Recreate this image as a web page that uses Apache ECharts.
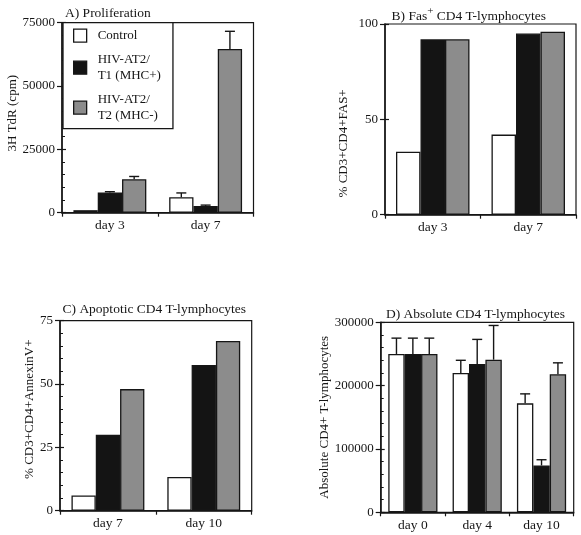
<!DOCTYPE html>
<html><head><meta charset="utf-8">
<script src="https://cdn.jsdelivr.net/npm/echarts@6.0.0/dist/echarts.min.js"></script>
<style>html,body{margin:0;padding:0;background:#fff}#c{width:581px;height:535px}</style>
</head><body><div id="c"></div>
<script>
// ---- data ----
const seriesNames = ['Control', 'HIV-AT2/\nT1 (MHC+)', 'HIV-AT2/\nT2 (MHC-)'];

const catA = ['day 3', 'day 7'];
const aControl = [1000, 6100];
const aT1 = [8000, 2600];
const aT2 = [13200, 64600];
const aControlErr = [null, 7800];
const aT1Err = [8300, 3000];
const aT2Err = [14300, 71600];
const ticksA = [0, 25000, 50000, 75000];

const catB = ['day 3', 'day 7'];
const bControl = [33, 42];
const bT1 = [92, 95];
const bT2 = [92, 96];
const ticksB = [0, 50, 100];

const catC = ['day 7', 'day 10'];
const cControl = [6, 13.3];
const cT1 = [30, 57.5];
const cT2 = [48, 67];
const ticksC = [0, 25, 50, 75];

const catD = ['day 0', 'day 4', 'day 10'];
const dControl = [250000, 220000, 172000];
const dT1 = [250000, 234000, 74000];
const dT2 = [250000, 241000, 218000];
const dControlErr = [275000, 240000, 187000];
const dT1Err = [275000, 273000, 83000];
const dT2Err = [275000, 295000, 236000];
const ticksD = [0, 100000, 200000, 300000];

// ---- styling ----
const FONT = '"Liberation Serif", "Times New Roman", serif';
const INK = '#161616';
const fills = ['#ffffff', '#141414', '#8c8c8c'];

const panels = [
  { grid: {left: 62, top: 22.7, width: 191.5, height: 190}, cats: catA, vals: [aControl, aT1, aT2],
    errs: [aControlErr, aT1Err, aT2Err], ticks: ticksA, minor: true, bw: 24.3,
    name: '3H TdR (cpm)', nameGap: 41, namePad: [0, 0, 0, 9] },
  { grid: {left: 385, top: 24, width: 191, height: 190.7}, cats: catB, vals: [bControl, bT1, bT2],
    errs: null, ticks: ticksB, minor: false, bw: 24.5,
    name: '% CD3+CD4+FAS+', nameGap: 35, namePad: [0, 48, 0, 0] },
  { grid: {left: 60, top: 320.7, width: 191.7, height: 190}, cats: catC, vals: [cControl, cT1, cT2],
    errs: null, ticks: ticksC, minor: true, bw: 24.3,
    name: '% CD3+CD4+AnnexinV+', nameGap: 23, namePad: [0, 0, 0, 13] },
  { grid: {left: 380.7, top: 322.3, width: 193, height: 190}, cats: catD, vals: [dControl, dT1, dT2],
    errs: [dControlErr, dT1Err, dT2Err], ticks: ticksD, minor: true, bw: 16.4,
    name: 'Absolute CD4+ T-lymphocytes', nameGap: 49, namePad: [0, 0, 0, 0] }
];

const grids = [], xAxes = [], yAxes = [], series = [];
panels.forEach((p, pi) => {
  const tmax = p.ticks[p.ticks.length - 1];
  const interval = p.ticks[1] - p.ticks[0];
  grids.push(Object.assign({show: true, borderColor: INK, borderWidth: 1.2, backgroundColor: 'transparent', containLabel: false}, p.grid));
  xAxes.push({
    type: 'category', gridIndex: pi, data: p.cats, boundaryGap: true,
    axisLine: {lineStyle: {color: INK, width: 1.5}},
    axisTick: {show: true, length: 4, lineStyle: {color: INK, width: 1.2}},
    axisLabel: {color: INK, fontFamily: FONT, fontSize: 13.5, margin: 6}
  });
  yAxes.push({
    type: 'value', gridIndex: pi, min: 0, max: tmax, interval: interval, position: 'left',
    axisLine: {show: true, lineStyle: {color: INK, width: 1.5}},
    axisTick: {show: true, inside: true, length: 4, lineStyle: {color: INK, width: 1.2}},
    minorTick: {show: p.minor, splitNumber: 5, length: 3, lineStyle: {color: INK, width: 1}},
    splitLine: {show: false},
    axisLabel: {color: INK, fontFamily: FONT, fontSize: 13, margin: 7, formatter: v => String(v)},
    name: p.name, nameLocation: 'middle', nameGap: p.nameGap,
    nameTextStyle: {color: INK, fontFamily: FONT, fontSize: 13, padding: p.namePad}
  });
  yAxes.push({
    type: 'value', gridIndex: pi, min: 0, max: tmax, interval: interval, position: 'left', offset: 0,
    axisLine: {show: false}, axisLabel: {show: false}, splitLine: {show: false},
    axisTick: {show: true, inside: false, length: 5, lineStyle: {color: INK, width: 1.2}}
  });
  p.vals.forEach((v, k) => {
    series.push({
      type: 'bar', name: seriesNames[k], xAxisIndex: pi, yAxisIndex: 2 * pi,
      data: v, barWidth: p.bw, barGap: '0%', z: 2,
      itemStyle: {color: fills[k], borderColor: INK, borderWidth: 1.3},
      emphasis: {disabled: true}
    });
  });
  if (p.errs) {
    p.errs.forEach((e, k) => {
      const data = [];
      e.forEach((hi, i) => { if (hi != null) data.push([i, hi, p.vals[k][i]]); });
      const bw = p.bw;
      series.push({
        type: 'custom', name: 'err' + pi + '_' + k, xAxisIndex: pi, yAxisIndex: 2 * pi, z: 3,
        encode: {x: 0, y: 1}, data: data, silent: true,
        renderItem: function (params, api) {
          const top = api.coord([api.value(0), api.value(1)]);
          const base = api.coord([api.value(0), api.value(2)]);
          const x = top[0] + (k - 1) * bw;
          const st = {stroke: INK, lineWidth: 1.4};
          return {type: 'group', children: [
            {type: 'line', shape: {x1: x, y1: base[1], x2: x, y2: top[1]}, style: st},
            {type: 'line', shape: {x1: x - 5, y1: top[1], x2: x + 5, y2: top[1]}, style: st}
          ]};
        }
      });
    });
  }
});

const titleStyle = {color: INK, fontFamily: FONT, fontSize: 13.5, fontWeight: 'normal'};
const option = {
  animation: false,
  backgroundColor: '#fff',
  title: [
    {text: 'A) Proliferation', left: 65, top: 6, padding: 0, textStyle: titleStyle},
    {text: '{a|B) Fas}{s|+}{a| CD4 T-lymphocytes}', left: 391.5, top: 6, padding: 0,
      textStyle: Object.assign({}, titleStyle, {rich: {
        a: {color: INK, fontFamily: FONT, fontSize: 13.5, lineHeight: 17, verticalAlign: 'bottom'},
        s: {color: INK, fontFamily: FONT, fontSize: 11, lineHeight: 11, verticalAlign: 'top'}
      }})},
    {text: 'C) Apoptotic CD4 T-lymphocytes', left: 62.5, top: 302, padding: 0, textStyle: titleStyle},
    {text: 'D) Absolute CD4 T-lymphocytes', left: 386, top: 307.5, padding: 0, textStyle: titleStyle}
  ],
  legend: {
    data: seriesNames, orient: 'vertical', left: 63, top: 22.7,
    padding: [5, 12, 5, 10], itemGap: 8, itemWidth: 13, itemHeight: 13,
    icon: 'rect',
    itemStyle: {borderColor: INK, borderWidth: 1.3},
    borderColor: INK, borderWidth: 1.3, backgroundColor: '#fff',
    selectedMode: false,
    textStyle: {color: INK, fontFamily: FONT, fontSize: 13, lineHeight: 16, padding: [0, 0, 0, 6]}
  },
  grid: grids, xAxis: xAxes, yAxis: yAxes, series: series
};
const chart = echarts.init(document.getElementById('c'), null, {renderer: 'canvas'});
chart.setOption(option);
</script></body></html>
